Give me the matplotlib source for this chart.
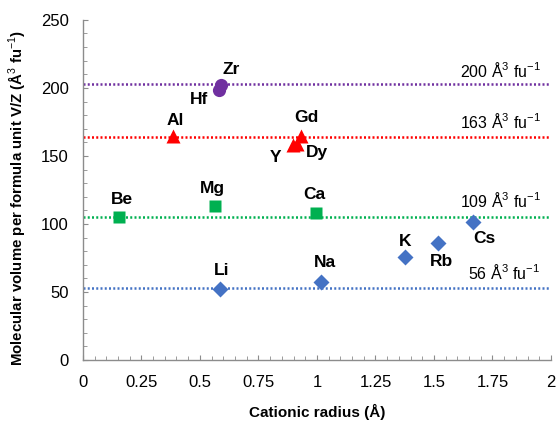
import numpy as np
import matplotlib
matplotlib.use("Agg")
import matplotlib.pyplot as plt
from matplotlib.ticker import MultipleLocator

plt.rcParams['font.family'] = ['Liberation Sans', 'DejaVu Sans']
plt.rcParams['mathtext.fontset'] = 'custom'
plt.rcParams['mathtext.rm'] = 'Liberation Sans'
plt.rcParams['mathtext.bf'] = 'Liberation Sans:bold'

# alkali (blue diamonds)
alk_names = ['Li', 'Na', 'K', 'Rb', 'Cs']
alk_r = [0.585, 1.016, 1.376, 1.518, 1.668]
alk_v = [52.2, 57.1, 75.5, 85.8, 101.2]

# alkaline earth (green squares)
ae_names = ['Be', 'Mg', 'Ca']
ae_r = [0.155, 0.564, 0.996]
ae_v = [105.4, 113.5, 108.3]

# trivalent (red triangles)
tri_names = ['Al', 'Y', 'Dy', 'Gd']
tri_r = [0.385, 0.896, 0.913, 0.934]
tri_v = [164.7, 158.0, 159.0, 165.0]

# tetravalent (purple circles)
tet_names = ['Hf', 'Zr']
tet_r = [0.581, 0.591]
tet_v = [198.8, 201.8]

# reference levels
levels = [202.5, 163.7, 105.4, 52.9]
level_text = ['200', '163', '109', '56']
level_colors = ['#7030A0', '#FF0000', '#00B050', '#4472C4']
level_label_y = [213, 175, 117, 64]

# label offsets (points)
offsets = {
    'Li': (1.5, 13), 'Na': (3, 14), 'K': (0, 11.5), 'Rb': (2.5, -13), 'Cs': (8, -11.5),
    'Be': (2, 12), 'Mg': (-1.5, 12), 'Ca': (-1, 13),
    'Al': (2, 11), 'Y': (-12, -9), 'Dy': (15, -6.5), 'Gd': (3.5, 13),
    'Hf': (-14, -7), 'Zr': (7, 11.5),
}

fig = plt.figure(figsize=(5.56, 4.23), dpi=100)
ax = fig.add_axes([0.149, 0.149, 0.842, 0.804])

for lv, c in zip(levels, level_colors):
    ax.axhline(lv, color=c, lw=1.8, linestyle=(0, (0.8, 0.9)), dash_capstyle='butt', zorder=1)

ax.plot(alk_r, alk_v, 'D', color='#4472C4', ms=8.5, mec='none', zorder=3)
ax.plot(ae_r, ae_v, 's', color='#00B050', ms=9, mec='none', zorder=3)
ax.plot(tri_r, tri_v, '^', color='#FF0000', ms=10, mec='none', zorder=3)
ax.plot(tet_r, tet_v, 'o', color='#7030A0', ms=9.5, mec='none', zorder=3)

for names, rs, vs in [(alk_names, alk_r, alk_v), (ae_names, ae_r, ae_v),
                      (tri_names, tri_r, tri_v), (tet_names, tet_r, tet_v)]:
    for n, r, v in zip(names, rs, vs):
        ax.annotate(n, (r, v), xytext=offsets[n], textcoords='offset points',
                    ha='center', va='center', fontsize=12.5, fontweight='bold')

for t, y in zip(level_text, level_label_y):
    ax.text(1.955, y, t + r' Å$^{3}$ fu$^{-1}$', ha='right', va='center', fontsize=11.5)

ax.set_xlim(0, 2)
ax.set_ylim(0, 250)
ax.set_xticks(np.arange(0, 2.01, 0.25))
ax.set_xticklabels(['0', '0.25', '0.5', '0.75', '1', '1.25', '1.5', '1.75', '2'])
ax.xaxis.set_minor_locator(MultipleLocator(0.05))
ax.yaxis.set_major_locator(MultipleLocator(50))
ax.yaxis.set_minor_locator(MultipleLocator(10))

for s in ['top', 'right']:
    ax.spines[s].set_visible(False)
for s in ['left', 'bottom']:
    ax.spines[s].set_color('#8c8c8c')
    ax.spines[s].set_linewidth(1)
ax.tick_params(which='both', direction='in', color='#8c8c8c', labelsize=12)
ax.tick_params(which='major', length=3.5)
ax.tick_params(which='minor', length=3)
ax.tick_params(axis='y', which='major', pad=10)
ax.tick_params(axis='x', which='major', pad=11)

ax.set_xlabel('Cationic radius (Å)', fontsize=11, fontweight='bold', labelpad=10)
ax.set_ylabel(r'Molecular volume per formula unit V/Z (Å$^{3}$ fu$^{-1}$)',
              fontsize=10.8, fontweight='bold')
ax.yaxis.set_label_coords(-0.118, 0.475)

fig.savefig('out.png', dpi=100)
